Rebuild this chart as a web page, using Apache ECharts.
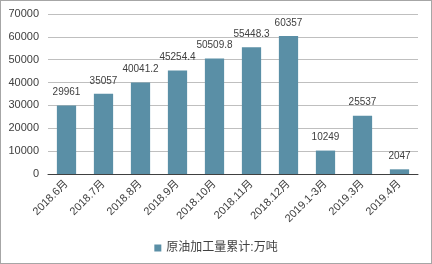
<!DOCTYPE html>
<html><head><meta charset="utf-8">
<script src="https://cdn.jsdelivr.net/npm/echarts@6/dist/echarts.min.js"></script>
<style>html,body{margin:0;padding:0;background:#fff}
#c{position:absolute;left:0;top:0;width:430px;height:262px;border:1px solid #a6a6a6;}</style>
</head><body><div id="c"></div>
<script>
var categories = ["2018.6月","2018.7月","2018.8月","2018.9月","2018.10月","2018.11月","2018.12月","2019.1-3月","2019.3月","2019.4月"];
var values = [29961,35057,40041.2,45254.4,50509.8,55448.3,60357,10249,25537,2047];
var seriesName = "原油加工量累计:万吨";
var chart = echarts.init(document.getElementById('c'));
var font = 'Arial, "Liberation Sans", "Noto Sans CJK SC", sans-serif';
chart.setOption({
  animation:false,
  textStyle:{fontFamily:font},
  grid:{left:47,right:13,top:13,bottom:89,containLabel:false},
  legend:{bottom:4,left:'center',itemWidth:7,itemHeight:7,itemGap:4,icon:'rect',
    textStyle:{fontSize:12,color:'#404040',fontFamily:font},data:[seriesName]},
  xAxis:{type:'category',data:categories,
    axisLine:{lineStyle:{color:'#404040',width:1}},axisTick:{show:false},
    axisLabel:{rotate:45,interval:0,fontSize:11,color:'#404040',margin:8}},
  yAxis:{type:'value',min:0,max:70000,interval:10000,
    axisLine:{show:false},axisTick:{show:false},
    splitLine:{lineStyle:{color:'#bfbfbf'}},
    axisLabel:{fontSize:11,color:'#404040',margin:9,formatter:function(v){return String(v);}}},
  series:[{name:seriesName,type:'bar',data:values,barWidth:'52%',
    itemStyle:{color:'#5a8fa6'},
    label:{show:true,position:'top',fontSize:10,color:'#404040',distance:8}}]
});
</script></body></html>
